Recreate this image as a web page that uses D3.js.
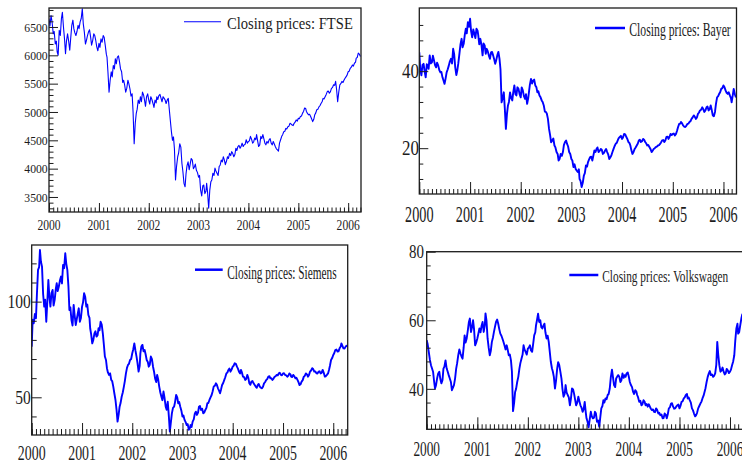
<!DOCTYPE html>
<html>
<head>
<meta charset="utf-8">
<script src="https://cdn.jsdelivr.net/npm/d3@7"></script>
<style>
  body { margin: 0; background: #fff; }
  svg { display: block; font-family: "Liberation Serif", "Times New Roman", serif; }
</style>
</head>
<body>
<svg id="chart" width="742" height="464"></svg>
<script>
// Weekly closing prices from Jan 2000 (observations on the 1st, 8th, 16th and 24th of each month).
const yearTicks = [2000, 2001, 2002, 2003, 2004, 2005, 2006];
const yearLabels = ["2000", "2001", "2002", "2003", "2004", "2005", "2006"];

const ftseClose = [
  6650, 6520, 6700, 6580, 6380, 6420, 6200, 6250, 6060, 6000,
  6440, 6350, 6650, 6760, 6500, 6280, 6030, 6250, 6380, 6250,
  6090, 6300, 6530, 6620, 6470, 6400, 6350, 6420, 6530, 6470,
  6590, 6650, 6820, 6560, 6410, 6200, 6260, 6340, 6410, 6450,
  6320, 6180, 6260, 6380, 6350, 6270, 6150, 6080, 6210, 6140,
  6290, 6230, 6350, 6320, 6180, 6020, 5970, 5700, 5350, 5560,
  5710, 5620, 5820, 5760, 5940, 5850, 5970, 5990, 5880, 5760,
  5710, 5520, 5560, 5480, 5350, 5420, 5560, 5500, 5410, 5280,
  5320, 5000, 4440, 4800, 4970, 5050, 5210, 5150, 5270, 5180,
  5350, 5300, 5210, 5100, 5270, 5320, 5210, 5140, 5270, 5220,
  5150, 5080, 5210, 5160, 5270, 5220, 5290, 5310, 5240, 5180,
  5270, 5240, 5210, 5150, 5210, 5240, 5030, 4850, 4650, 4500,
  4560, 4350, 3800, 4050, 4210, 4280, 4440, 4380, 4090, 3950,
  3740, 3680, 3910, 4050, 4120, 3980, 4090, 4180, 4150, 4000,
  4030, 4080, 3970, 3930, 3850, 3880, 3620, 3520, 3700, 3710,
  3560, 3600, 3740, 3580, 3300, 3620, 3770, 3800, 3920, 3880,
  4010, 3960, 3920, 3880, 4040, 4060, 4150, 4120, 4210, 4160,
  4070, 4130, 4210, 4180, 4270, 4230, 4300, 4270, 4210, 4250,
  4360, 4320, 4390, 4410, 4360, 4390, 4450, 4390, 4420, 4430,
  4510, 4450, 4480, 4490, 4570, 4520, 4450, 4470, 4540, 4510,
  4600, 4500, 4390, 4420, 4570, 4530, 4600, 4520, 4450, 4420,
  4480, 4450, 4510, 4530, 4450, 4420, 4480, 4440, 4390, 4350,
  4330, 4310, 4450, 4510, 4570, 4600, 4650, 4660, 4710, 4700,
  4740, 4750, 4800, 4790, 4770, 4760, 4800, 4820, 4860, 4840,
  4890, 4880, 4920, 4930, 4980, 5010, 5070, 5060, 5010, 4980,
  4950, 4960, 4920, 4880, 4830, 4870, 4950, 4980, 5040, 5050,
  5090, 5110, 5150, 5180, 5240, 5230, 5270, 5310, 5360, 5370,
  5330, 5360, 5420, 5430, 5480, 5470, 5540, 5400, 5180, 5350,
  5480, 5500, 5540, 5520, 5560, 5590, 5620, 5650, 5710, 5720,
  5770, 5790, 5830, 5810, 5860, 5880, 5950, 5960, 6040, 6020,
  5980
];

const bayerClose = [
  44.9, 40.5, 38.9, 41.6, 41.9, 40.0, 38.4, 41.8, 41.5, 40.6,
  44.1, 42.0, 42.3, 44.0, 42.8, 41.5, 41.0, 42.2, 41.5, 40.3,
  39.7, 39.8, 38.4, 37.5, 36.7, 38.0, 39.7, 40.5, 41.5, 42.5,
  43.2, 42.0, 45.8, 44.5, 41.0, 39.0, 40.2, 42.0, 44.5, 47.0,
  48.4, 46.2, 47.1, 49.5, 51.0, 49.8, 52.7, 51.5, 53.6, 50.5,
  48.8, 50.8, 49.7, 48.6, 51.0, 50.5, 49.3, 47.0, 48.4, 46.8,
  44.1, 47.2, 46.7, 44.5, 45.8, 45.2, 44.1, 43.2, 44.9, 45.0,
  44.1, 43.0, 41.9, 42.8, 44.1, 45.0, 43.2, 40.5, 31.9, 33.0,
  34.5, 30.5, 25.0, 29.0, 31.1, 32.0, 34.5, 33.0, 32.4, 34.5,
  36.3, 34.0, 33.7, 35.8, 35.4, 34.0, 33.2, 35.8, 35.0, 33.5,
  32.8, 34.0, 31.5, 33.0, 34.5, 36.5, 38.0, 36.8, 37.6, 37.8,
  36.3, 35.8, 34.5, 34.8, 33.7, 33.2, 32.4, 32.0, 31.1, 29.5,
  29.4, 29.0, 27.6, 25.0, 23.3, 21.5, 22.0, 22.5, 20.7, 20.2,
  19.0, 18.5, 16.8, 17.2, 18.5, 18.0, 19.0, 20.8, 21.6, 22.0,
  21.1, 20.5, 19.0, 18.5, 17.2, 16.8, 15.1, 15.8, 14.6, 14.2,
  13.8, 14.5, 12.0, 11.5, 9.9, 11.0, 12.9, 13.5, 15.5, 15.2,
  16.4, 17.0, 17.7, 17.8, 16.8, 18.0, 19.4, 19.0, 19.8, 20.2,
  19.0, 19.3, 19.8, 19.6, 18.5, 18.8, 19.4, 19.8, 19.0, 18.3,
  17.2, 17.6, 18.1, 19.0, 19.8, 20.5, 21.1, 21.4, 22.0, 22.6,
  22.9, 23.2, 22.4, 22.8, 23.7, 23.6, 22.9, 22.4, 21.6, 21.3,
  20.7, 19.5, 18.5, 19.0, 19.8, 20.2, 20.7, 21.2, 22.0, 22.2,
  21.6, 21.8, 22.4, 22.2, 21.6, 21.2, 20.7, 20.8, 20.3, 19.8,
  19.0, 19.3, 19.8, 20.0, 20.3, 20.4, 20.7, 20.8, 21.1, 21.5,
  22.0, 22.1, 21.6, 22.0, 22.9, 23.0, 22.4, 22.9, 23.7, 23.4,
  23.7, 23.8, 23.3, 23.7, 24.6, 25.5, 26.3, 26.4, 26.8, 26.5,
  25.9, 25.6, 25.5, 25.8, 26.3, 26.4, 26.8, 27.0, 27.6, 28.0,
  28.5, 28.2, 27.6, 28.0, 28.9, 29.2, 29.8, 30.0, 30.6, 30.2,
  29.4, 29.8, 30.6, 30.8, 29.8, 30.2, 31.1, 30.0, 28.5, 28.3,
  29.4, 31.5, 33.2, 33.5, 34.1, 34.5, 35.4, 35.6, 36.3, 35.9,
  35.0, 34.4, 34.1, 34.5, 33.7, 33.0, 31.9, 33.5, 35.4, 34.0,
  33.2
];

const siemensClose = [
  76.5, 90.5, 88.7, 93.5, 91.3, 104.0, 116.6, 118.0, 127.0, 121.0,
  118.3, 104.0, 97.4, 101.0, 89.5, 100.5, 111.3, 103.0, 97.4, 104.5,
  106.1, 98.0, 100.9, 106.5, 109.6, 105.5, 107.8, 111.0, 113.1, 109.5,
  119.2, 117.5, 125.3, 120.0, 116.6, 108.0, 95.6, 97.0, 90.4, 87.5,
  98.3, 93.0, 87.8, 91.0, 93.9, 96.5, 89.5, 91.5, 97.4, 99.5,
  104.4, 102.5, 97.4, 98.5, 93.0, 91.5, 86.1, 83.0, 78.2, 80.0,
  83.4, 84.5, 81.7, 82.5, 86.1, 85.0, 89.5, 88.0, 83.4, 78.0,
  71.3, 69.5, 65.2, 63.0, 61.7, 62.5, 59.1, 58.5, 55.6, 52.0,
  48.6, 44.0, 37.3, 41.0, 45.1, 47.0, 50.3, 52.5, 55.6, 58.5,
  62.5, 65.5, 66.9, 67.5, 69.5, 70.0, 73.0, 75.0, 78.2, 74.5,
  71.3, 68.0, 63.4, 66.5, 73.0, 76.5, 77.4, 74.0, 74.7, 72.5,
  69.5, 68.5, 66.0, 67.0, 71.3, 70.0, 66.0, 63.5, 59.9, 58.0,
  61.7, 59.5, 55.6, 52.5, 50.3, 48.5, 53.0, 49.5, 45.1, 43.5,
  47.7, 40.0, 32.1, 36.5, 41.6, 44.5, 45.1, 47.5, 51.2, 50.0,
  46.9, 47.5, 45.1, 43.0, 39.9, 40.5, 38.2, 37.0, 35.5, 36.0,
  33.0, 34.0, 35.5, 34.5, 37.3, 38.5, 41.6, 42.5, 40.8, 42.0,
  45.1, 45.5, 43.4, 44.0, 41.6, 42.0, 43.4, 44.5, 46.9, 47.0,
  48.6, 50.0, 51.2, 53.0, 55.6, 56.0, 57.3, 56.5, 54.7, 53.5,
  52.1, 54.0, 56.4, 57.5, 59.1, 60.5, 62.5, 63.0, 64.3, 65.0,
  63.4, 64.5, 66.0, 66.5, 67.8, 67.5, 66.0, 65.0, 63.4, 62.5,
  64.3, 63.0, 60.8, 60.5, 59.1, 59.5, 61.7, 60.0, 57.3, 56.5,
  58.2, 58.5, 57.3, 56.5, 55.6, 55.0, 56.4, 57.0, 55.6, 55.0,
  54.7, 55.5, 57.3, 58.0, 59.1, 59.5, 60.8, 61.0, 59.9, 60.0,
  59.1, 59.8, 60.8, 61.0, 61.7, 61.5, 62.5, 62.8, 61.7, 61.5,
  62.5, 62.6, 61.7, 61.5, 60.8, 61.2, 62.5, 62.0, 60.8, 60.6,
  61.7, 61.0, 59.9, 60.2, 59.1, 57.8, 56.4, 56.8, 58.2, 59.0,
  60.8, 61.2, 62.5, 62.0, 60.8, 61.5, 63.4, 64.0, 65.2, 64.8,
  63.4, 63.5, 62.5, 62.4, 63.4, 63.6, 62.5, 62.8, 64.3, 62.8,
  60.8, 61.0, 61.7, 62.5, 64.3, 66.5, 69.5, 70.5, 72.1, 73.0,
  74.7, 75.0, 73.9, 74.0, 75.6, 76.5, 78.2, 77.0, 75.6, 75.5,
  76.5, 77.0, 76.5
];

const vwClose = [
  54.2, 53.0, 50.8, 48.5, 46.9, 46.0, 45.0, 42.0, 40.1, 41.0,
  43.0, 44.5, 45.0, 43.0, 41.6, 42.5, 45.9, 46.5, 48.3, 46.0,
  45.0, 44.0, 43.0, 42.0, 39.6, 40.3, 41.1, 43.0, 45.9, 47.5,
  49.8, 51.5, 50.3, 49.5, 48.8, 52.0, 55.6, 53.5, 54.7, 57.0,
  59.5, 60.5, 56.6, 58.0, 60.0, 57.5, 52.7, 53.5, 54.7, 56.0,
  57.6, 56.5, 58.5, 59.5, 56.6, 58.5, 62.0, 60.0, 54.7, 52.0,
  49.8, 51.0, 53.7, 55.0, 56.6, 58.0, 59.5, 60.2, 59.0, 57.5,
  56.1, 55.5, 54.7, 53.8, 52.7, 51.5, 52.7, 51.5, 49.8, 50.0,
  48.3, 45.0, 33.5, 36.0, 39.1, 40.0, 42.0, 43.5, 45.9, 47.5,
  48.8, 50.0, 52.7, 51.5, 50.8, 50.0, 51.7, 52.0, 52.7, 51.2,
  50.8, 53.0, 55.6, 56.5, 58.5, 60.0, 61.9, 59.5, 60.0, 58.0,
  57.6, 58.5, 59.0, 56.5, 54.7, 55.5, 53.7, 51.0, 47.9, 46.0,
  45.0, 43.5, 40.1, 42.5, 45.9, 47.8, 46.9, 45.0, 43.0, 40.0,
  37.7, 38.5, 41.1, 39.0, 38.2, 37.5, 35.2, 37.0, 40.1, 39.8,
  38.6, 37.0, 35.2, 36.0, 37.7, 36.5, 35.2, 34.5, 33.3, 34.0,
  36.2, 33.0, 31.4, 30.5, 28.8, 31.0, 33.3, 32.0, 31.4, 31.6,
  33.3, 32.8, 30.4, 30.8, 28.9, 31.5, 34.3, 35.0, 36.7, 36.0,
  37.2, 37.0, 38.2, 38.5, 40.1, 43.5, 45.6, 43.5, 41.1, 40.5,
  43.0, 43.5, 44.0, 43.5, 42.0, 42.5, 44.5, 43.2, 44.0, 43.5,
  44.5, 44.8, 43.5, 42.0, 41.1, 40.5, 39.1, 38.5, 39.6, 39.2,
  38.2, 37.5, 36.2, 36.5, 35.2, 35.5, 36.7, 36.2, 35.2, 35.6,
  34.8, 35.5, 34.8, 34.2, 33.8, 34.0, 33.3, 33.2, 34.3, 33.8,
  32.8, 33.0, 32.3, 32.5, 31.4, 31.5, 32.8, 32.4, 31.4, 32.5,
  34.3, 34.6, 35.7, 35.8, 34.8, 34.2, 34.3, 34.8, 35.2, 35.4,
  34.3, 35.0, 36.2, 36.4, 37.2, 37.5, 38.2, 38.5, 37.2, 37.5,
  36.7, 36.0, 34.3, 33.8, 32.8, 32.0, 32.3, 33.0, 34.3, 35.0,
  35.7, 36.2, 37.2, 38.0, 39.1, 40.2, 42.0, 43.5, 44.5, 45.2,
  44.0, 44.2, 43.5, 43.8, 44.5, 47.0, 53.7, 50.0, 46.9, 45.0,
  45.4, 46.2, 45.0, 44.2, 44.5, 45.8, 45.4, 44.6, 45.0, 45.6,
  46.9, 48.0, 49.8, 54.0, 57.6, 59.0, 56.1, 56.5, 58.5, 60.5,
  61.9
];

const ftseTicks = [3500, 4000, 4500, 5000, 5500, 6000, 6500];
const bayerTicks = [20, 40];
const siemensTicks = [50, 100];
const vwTicks = [40, 60, 80];

const ftseLabel = "Closing prices: FTSE";
const bayerLabel = "Closing prices: Bayer";
const siemensLabel = "Closing prices: Siemens";
const vwLabel = "Closing prices: Volkswagen";

// date of the i-th weekly observation
const obsDays = [1, 8, 16, 24];
const sampleDate = i => new Date(2000, Math.floor(i / 4), obsDays[i % 4]);

const ink = "#1c1c1c";
const blue = "#0000ff";

const panels = [
  {
    key: "ftse", values: ftseClose, label: ftseLabel,
    frame: { l: 49, r: 361, t: 8, b: 212 }, end: new Date(2006, 3, 5),
    yDomain: [3235, 6835], yMajor: ftseTicks, yMinor: d3.range(3300, 6900, 100),
    yMajLen: 9, yMinLen: 4.5, xMajLen: 9, xMinLen: 4.5, lw: 1.1,
    xLab: { size: 14.3, sx: 0.81, base: 230 },
    yLab: { size: 13.3, sx: 0.88, right: 47.7 },
    legend: { x1: 184, x2: 221, y: 21.7, lw: 1.1, tx: 227, ty: 28.7, size: 17, sx: 0.86 }
  },
  {
    key: "bayer", values: bayerClose, label: bayerLabel,
    frame: { l: 419.3, r: 736.5, t: 8, b: 194 }, end: new Date(2006, 3, 5),
    yDomain: [8.1, 56.4], yMajor: bayerTicks, yMinor: d3.range(12, 56, 4),
    yMajLen: 9, yMinLen: 4, xMajLen: 12, xMinLen: 5, lw: 1.9,
    xLab: { size: 23.7, sx: 0.6, base: 221.7 },
    yLab: { size: 20.7, sx: 0.82, right: 419 },
    legend: { x1: 595, x2: 625, y: 28, lw: 2.5, tx: 629.3, ty: 35.7, size: 18.6, sx: 0.63 }
  },
  {
    key: "siemens", values: siemensClose, label: siemensLabel,
    frame: { l: 31.7, r: 347.7, t: 245, b: 435 }, end: new Date(2006, 3, 16),
    yDomain: [30.3, 129.6], yMajor: siemensTicks, yMinor: [40, 60, 70, 80, 90, 110, 120],
    yMajLen: 10, yMinLen: 5, xMajLen: 12, xMinLen: 6, lw: 1.9,
    xLab: { size: 21, sx: 0.66, base: 459.5 },
    yLab: { size: 18.7, sx: 0.83, right: 30.7 },
    legend: { x1: 195, x2: 222.7, y: 269.7, lw: 2.5, tx: 227.3, ty: 279, size: 19.7, sx: 0.575 }
  },
  {
    key: "vw", values: vwClose, label: vwLabel,
    frame: { l: 426.7, r: 743, t: 251.7, b: 429.3 }, end: new Date(2006, 3, 5),
    yDomain: [28.2, 80], yMajor: vwTicks, yMinor: d3.range(32, 80, 4),
    yMajLen: 9, yMinLen: 4, xMajLen: 12, xMinLen: 5, lw: 1.9,
    xLab: { size: 21.5, sx: 0.62, base: 455.7 },
    yLab: { size: 19.7, sx: 0.76, right: 424 },
    legend: { x1: 569.3, x2: 598.3, y: 275, lw: 2.5, tx: 602.3, ty: 281.7, size: 17.7, sx: 0.64 }
  }
];

const svg = d3.select("#chart");
const defs = svg.append("defs");

function styleAxis(sel) {
  sel.select(".domain").remove();
  sel.selectAll(".tick line").attr("stroke", ink).attr("stroke-width", 1);
}

function drawPanel(p) {
  const f = p.frame;
  const x = d3.scaleTime().domain([new Date(2000, 0, 1), p.end]).range([f.l, f.r]);
  const y = d3.scaleLinear().domain(p.yDomain).range([f.b, f.t]);
  const g = svg.append("g").attr("class", "panel-" + p.key);

  defs.append("clipPath").attr("id", "clip-" + p.key)
    .append("rect").attr("x", f.l).attr("y", f.t)
    .attr("width", f.r - f.l).attr("height", f.b - f.t);

  // price line
  const line = d3.line().x((d, i) => x(sampleDate(i))).y(d => y(d));
  g.append("path").datum(p.values)
    .attr("clip-path", `url(#clip-${p.key})`)
    .attr("fill", "none").attr("stroke", blue)
    .attr("stroke-width", p.lw).attr("stroke-linejoin", "round")
    .attr("d", line);

  // inward ticks: monthly minors, yearly majors
  g.append("g").attr("transform", `translate(0,${f.b})`)
    .call(d3.axisBottom(x).ticks(d3.timeMonth.every(1)).tickSize(-p.xMinLen).tickFormat(""))
    .call(styleAxis);
  g.append("g").attr("transform", `translate(0,${f.b})`)
    .call(d3.axisBottom(x).tickValues(yearTicks.map(yr => new Date(yr, 0, 1))).tickSize(-p.xMajLen).tickFormat(""))
    .call(styleAxis);

  const yMinorVals = p.yMinor.filter(v => v > p.yDomain[0] && v < p.yDomain[1] && !p.yMajor.includes(v));
  g.append("g").attr("transform", `translate(${f.l},0)`)
    .call(d3.axisLeft(y).tickValues(yMinorVals).tickSize(-p.yMinLen).tickFormat(""))
    .call(styleAxis);
  g.append("g").attr("transform", `translate(${f.l},0)`)
    .call(d3.axisLeft(y).tickValues(p.yMajor).tickSize(-p.yMajLen).tickFormat(""))
    .call(styleAxis);

  // frame
  g.append("rect").attr("x", f.l).attr("y", f.t)
    .attr("width", f.r - f.l).attr("height", f.b - f.t)
    .attr("fill", "none").attr("stroke", ink).attr("stroke-width", 1.3);

  // year labels
  yearTicks.forEach((yr, k) => {
    g.append("text")
      .attr("transform", `translate(${x(new Date(yr, 0, 1))},${p.xLab.base}) scale(${p.xLab.sx},1)`)
      .attr("text-anchor", "middle").attr("font-size", p.xLab.size)
      .attr("fill", ink).text(yearLabels[k]);
  });

  // value labels
  p.yMajor.forEach(v => {
    g.append("text")
      .attr("transform", `translate(${p.yLab.right},${y(v) + 0.34 * p.yLab.size}) scale(${p.yLab.sx},1)`)
      .attr("text-anchor", "end").attr("font-size", p.yLab.size)
      .attr("fill", ink).text(d3.format("d")(v));
  });

  // legend
  const L = p.legend;
  g.append("line").attr("x1", L.x1).attr("x2", L.x2).attr("y1", L.y).attr("y2", L.y)
    .attr("stroke", blue).attr("stroke-width", L.lw);
  g.append("text")
    .attr("transform", `translate(${L.tx},${L.ty}) scale(${L.sx},1)`)
    .attr("font-size", L.size).attr("fill", ink).text(p.label);
}

panels.forEach(drawPanel);
</script>
</body>
</html>
